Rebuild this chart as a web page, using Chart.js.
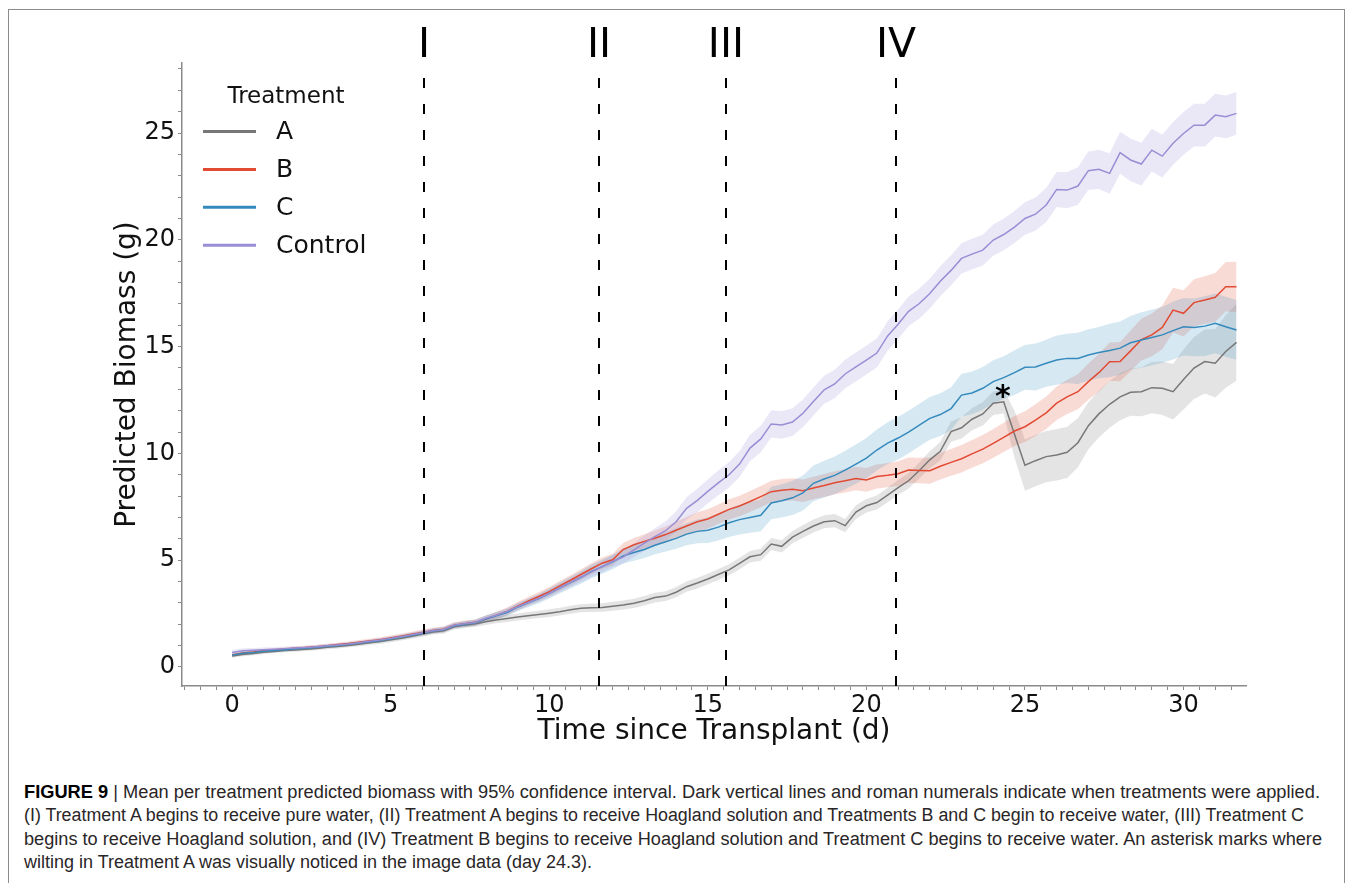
<!DOCTYPE html>
<html>
<head>
<meta charset="utf-8">
<title>Predicted biomass per treatment</title>
<script src="https://cdn.jsdelivr.net/npm/chart.js@4.4.0/dist/chart.umd.min.js"></script>
<style>
  html, body { margin: 0; padding: 0; background: #fff; }
  body { width: 1355px; height: 883px; position: relative; overflow: hidden; }
  #frame { position: absolute; left: 8px; top: 9px; width: 1337px; height: 900px; border: 1px solid #8c8c8c; box-sizing: border-box; }
  #chart-wrap { position: absolute; left: 0; top: 0; width: 1355px; height: 760px; }
  #caption { position: absolute; left: 24px; top: 781px; font-family: "Liberation Sans Narrow", "Liberation Sans", Arial, sans-serif; font-size: 18px; line-height: 23.3px; color: #2a2627; }
  .cap-line { white-space: nowrap; width: max-content; transform-origin: 0 50%; }
  .cap-line b { color: #000; }
</style>
</head>
<body>
<div id="frame"></div>
<div id="chart-wrap"><canvas id="biomass-chart" width="1355" height="760"></canvas></div>
<div id="caption">
  <div class="cap-line"><b>FIGURE 9</b> | Mean per treatment predicted biomass with 95% confidence interval. Dark vertical lines and roman numerals indicate when treatments were applied.</div>
  <div class="cap-line">(I) Treatment A begins to receive pure water, (II) Treatment A begins to receive Hoagland solution and Treatments B and C begin to receive water, (III) Treatment C</div>
  <div class="cap-line">begins to receive Hoagland solution, and (IV) Treatment B begins to receive Hoagland solution and Treatment C begins to receive water. An asterisk marks where</div>
  <div class="cap-line">wilting in Treatment A was visually noticed in the image data (day 24.3).</div>
</div>
<script>
// ===================================================================
// DATA (one sample every 1/3 day)
// ===================================================================
const days = [
    0, 0.33, 0.67, 1, 1.33, 1.67, 2, 2.33, 2.67, 3, 3.33, 3.67,
    4, 4.33, 4.67, 5, 5.33, 5.67, 6, 6.33, 6.67, 7, 7.33, 7.67,
    8, 8.33, 8.67, 9, 9.33, 9.67, 10, 10.33, 10.67, 11, 11.33, 11.67,
    12, 12.33, 12.67, 13, 13.33, 13.67, 14, 14.33, 14.67, 15, 15.33, 15.67,
    16, 16.33, 16.67, 17, 17.33, 17.67, 18, 18.33, 18.67, 19, 19.33, 19.67,
    20, 20.33, 20.67, 21, 21.33, 21.67, 22, 22.33, 22.67, 23, 23.33, 23.67,
    24, 24.33, 24.67, 25, 25.33, 25.67, 26, 26.33, 26.67, 27, 27.33, 27.67,
    28, 28.33, 28.67, 29, 29.33, 29.67, 30, 30.33, 30.67, 31, 31.33, 31.67
];

const meanA = [
    0.51, 0.58, 0.63, 0.69, 0.73, 0.77, 0.80, 0.83, 0.87, 0.92, 0.96, 1.01,
    1.07, 1.13, 1.19, 1.27, 1.35, 1.44, 1.54, 1.64, 1.70, 1.88, 1.96, 2.02,
    2.12, 2.20, 2.27, 2.34, 2.40, 2.46, 2.52, 2.59, 2.68, 2.75, 2.77, 2.79,
    2.84, 2.90, 2.98, 3.10, 3.25, 3.32, 3.50, 3.76, 3.93, 4.12, 4.33, 4.55,
    4.85, 5.16, 5.26, 5.76, 5.65, 6.08, 6.35, 6.60, 6.80, 6.85, 6.62, 7.25,
    7.55, 7.70, 8.05, 8.40, 8.72, 9.20, 9.70, 10.10, 11.02, 11.20, 11.60, 11.85,
    12.35, 12.42, 10.90, 9.45, 9.66, 9.85, 9.93, 10.05, 10.50, 11.30, 11.85, 12.30,
    12.65, 12.86, 12.89, 13.08, 13.05, 12.89, 13.46, 14.00, 14.30, 14.22, 14.77, 15.20
];
const meanB = [
    0.56, 0.65, 0.70, 0.77, 0.80, 0.84, 0.88, 0.91, 0.95, 1.00, 1.05, 1.10,
    1.16, 1.22, 1.28, 1.36, 1.44, 1.53, 1.62, 1.71, 1.77, 1.96, 2.03, 2.09,
    2.25, 2.42, 2.60, 2.85, 3.08, 3.30, 3.53, 3.80, 4.06, 4.33, 4.60, 4.86,
    5.02, 5.50, 5.72, 5.88, 6.03, 6.20, 6.40, 6.60, 6.80, 6.93, 7.15, 7.38,
    7.54, 7.75, 7.98, 8.21, 8.28, 8.32, 8.25, 8.38, 8.50, 8.63, 8.72, 8.83,
    8.76, 8.92, 8.98, 9.05, 9.22, 9.20, 9.19, 9.40, 9.58, 9.75, 9.98, 10.20,
    10.47, 10.75, 11.05, 11.25, 11.56, 11.90, 12.35, 12.65, 12.89, 13.36, 13.78, 14.29,
    14.30, 14.80, 15.33, 15.55, 15.90, 16.71, 16.56, 17.06, 17.18, 17.31, 17.80, 17.80
];
const meanC = [
    0.55, 0.64, 0.68, 0.74, 0.77, 0.81, 0.85, 0.88, 0.92, 0.97, 1.01, 1.06,
    1.12, 1.18, 1.24, 1.32, 1.40, 1.49, 1.58, 1.68, 1.74, 1.93, 2.00, 2.07,
    2.25, 2.40, 2.55, 2.80, 3.00, 3.20, 3.45, 3.70, 3.95, 4.20, 4.48, 4.70,
    4.92, 5.20, 5.36, 5.50, 5.70, 5.86, 6.02, 6.22, 6.35, 6.40, 6.55, 6.75,
    6.90, 7.00, 7.10, 7.68, 7.78, 7.92, 8.15, 8.60, 8.80, 8.97, 9.22, 9.50,
    9.78, 10.16, 10.48, 10.72, 11.00, 11.33, 11.64, 11.82, 12.10, 12.73, 12.83, 13.05,
    13.36, 13.55, 13.78, 14.03, 14.05, 14.22, 14.37, 14.45, 14.45, 14.61, 14.72, 14.82,
    14.93, 15.18, 15.31, 15.43, 15.55, 15.75, 15.93, 15.90, 15.96, 16.09, 15.93, 15.78
];
const meanControl = [
    0.68, 0.76, 0.78, 0.81, 0.83, 0.86, 0.89, 0.91, 0.95, 0.99, 1.03, 1.08,
    1.14, 1.20, 1.26, 1.34, 1.42, 1.51, 1.60, 1.70, 1.76, 1.95, 2.02, 2.08,
    2.28, 2.42, 2.60, 2.82, 3.02, 3.22, 3.45, 3.70, 3.96, 4.20, 4.45, 4.70,
    4.95, 5.15, 5.48, 5.80, 6.10, 6.38, 6.80, 7.43, 7.80, 8.22, 8.62, 9.00,
    9.50, 10.25, 10.68, 11.38, 11.33, 11.47, 11.88, 12.43, 12.98, 13.25, 13.72, 14.05,
    14.37, 14.70, 15.50, 16.05, 16.65, 17.02, 17.49, 18.06, 18.57, 19.13, 19.33, 19.52,
    19.99, 20.25, 20.60, 21.00, 21.20, 21.63, 22.36, 22.33, 22.52, 23.24, 23.30, 23.11,
    24.08, 23.74, 23.55, 24.20, 23.92, 24.52, 24.98, 25.37, 25.37, 25.84, 25.76, 25.92
];

// half width of the 95% confidence band
const ciA = [
    0.08, 0.08, 0.08, 0.08, 0.08, 0.08, 0.08, 0.08, 0.09, 0.09, 0.09, 0.09,
    0.10, 0.10, 0.10, 0.11, 0.11, 0.12, 0.12, 0.12, 0.13, 0.13, 0.14, 0.14,
    0.15, 0.15, 0.16, 0.16, 0.17, 0.17, 0.18, 0.18, 0.19, 0.19, 0.20, 0.20,
    0.21, 0.21, 0.22, 0.22, 0.23, 0.23, 0.24, 0.24, 0.25, 0.25, 0.26, 0.26,
    0.27, 0.27, 0.28, 0.28, 0.29, 0.29, 0.30, 0.30, 0.30, 0.31, 0.31, 0.32,
    0.32, 0.33, 0.34, 0.35, 0.36, 0.38, 0.40, 0.43, 0.47, 0.50, 0.52, 0.54,
    0.55, 0.55, 1.10, 1.20, 1.20, 1.20, 1.20, 1.20, 1.15, 1.10, 1.10, 1.10,
    1.10, 1.10, 1.15, 1.20, 1.25, 1.30, 1.40, 1.45, 1.50, 1.60, 1.70, 1.80
];
const ciB = [
    0.08, 0.08, 0.08, 0.08, 0.08, 0.08, 0.08, 0.09, 0.09, 0.09, 0.09, 0.09,
    0.10, 0.10, 0.11, 0.11, 0.12, 0.12, 0.13, 0.13, 0.14, 0.14, 0.15, 0.15,
    0.16, 0.17, 0.18, 0.19, 0.20, 0.21, 0.22, 0.23, 0.24, 0.25, 0.26, 0.27,
    0.28, 0.30, 0.32, 0.34, 0.36, 0.38, 0.40, 0.42, 0.44, 0.45, 0.46, 0.47,
    0.48, 0.49, 0.50, 0.51, 0.52, 0.52, 0.53, 0.53, 0.54, 0.54, 0.55, 0.55,
    0.56, 0.56, 0.57, 0.58, 0.59, 0.60, 0.61, 0.62, 0.63, 0.64, 0.65, 0.66,
    0.67, 0.68, 0.70, 0.72, 0.74, 0.76, 0.78, 0.80, 0.82, 0.85, 0.88, 0.90,
    0.92, 0.95, 0.98, 1.00, 1.02, 1.05, 1.08, 1.10, 1.12, 1.14, 1.16, 1.18
];
const ciC = [
    0.08, 0.08, 0.08, 0.08, 0.08, 0.08, 0.08, 0.08, 0.08, 0.08, 0.08, 0.08,
    0.09, 0.09, 0.10, 0.10, 0.11, 0.11, 0.12, 0.12, 0.13, 0.13, 0.14, 0.15,
    0.16, 0.17, 0.18, 0.19, 0.20, 0.22, 0.24, 0.26, 0.28, 0.30, 0.32, 0.33,
    0.34, 0.36, 0.38, 0.40, 0.42, 0.45, 0.48, 0.52, 0.56, 0.60, 0.63, 0.66,
    0.70, 0.72, 0.74, 0.76, 0.78, 0.80, 0.82, 0.84, 0.86, 0.88, 0.90, 0.92,
    0.94, 0.96, 0.98, 1.00, 1.00, 1.00, 1.00, 1.00, 1.00, 1.00, 1.00, 1.00,
    1.00, 1.00, 1.05, 1.05, 1.10, 1.10, 1.15, 1.15, 1.20, 1.20, 1.20, 1.25,
    1.25, 1.25, 1.30, 1.30, 1.30, 1.35, 1.35, 1.35, 1.40, 1.40, 1.40, 1.40
];
const ciControl = [
    0.12, 0.12, 0.11, 0.10, 0.10, 0.10, 0.09, 0.09, 0.09, 0.09, 0.09, 0.09,
    0.09, 0.09, 0.10, 0.10, 0.10, 0.10, 0.11, 0.11, 0.11, 0.12, 0.12, 0.12,
    0.13, 0.14, 0.15, 0.16, 0.17, 0.18, 0.19, 0.20, 0.21, 0.22, 0.24, 0.26,
    0.28, 0.30, 0.33, 0.36, 0.40, 0.44, 0.48, 0.52, 0.55, 0.57, 0.58, 0.60,
    0.60, 0.62, 0.62, 0.64, 0.64, 0.65, 0.65, 0.66, 0.66, 0.67, 0.67, 0.68,
    0.68, 0.68, 0.69, 0.69, 0.70, 0.70, 0.70, 0.70, 0.71, 0.71, 0.72, 0.72,
    0.73, 0.74, 0.75, 0.76, 0.78, 0.80, 0.82, 0.85, 0.88, 0.90, 0.92, 0.95,
    0.98, 1.00, 1.00, 1.00, 1.00, 1.00, 1.00, 1.00, 1.00, 1.00, 1.00, 1.00
];

const treatmentLabels = ['A', 'B', 'C', 'Control'];
const treatmentColors = ['#777777', '#E24A33', '#348ABD', '#988ED5'];
const treatmentMeans = [meanA, meanB, meanC, meanControl];
const treatmentCIs = [ciA, ciB, ciC, ciControl];

// when the watering regime changed (dashed lines)
const changeDays = [6.05, 11.57, 15.57, 20.93];
const changeNumerals = ['I', 'II', 'III', 'IV'];

// wilting noticed in treatment A
const wiltDay = 24.3;
const wiltValue = 12.42;

const xMajorTicks = [0, 5, 10, 15, 20, 25, 30];
const yMajorTicks = [0, 5, 10, 15, 20, 25];

// ===================================================================
// STYLE
// ===================================================================
const FONT = '"DejaVu Sans", Verdana, sans-serif';
const AXIS_GRAY = '#8a8a8a';
const TEXT = '#111111';

function withAlpha(hex, a) {
    const n = parseInt(hex.slice(1), 16);
    return `rgba(${(n >> 16) & 255}, ${(n >> 8) & 255}, ${n & 255}, ${a})`;
}

function minorTicks(from, to, step) {
    const out = [];
    for (let v = from; v <= to + 1e-9; v += step) out.push(Math.round(v * 100) / 100);
    return out;
}

// ===================================================================
// DATASETS
// ===================================================================
const datasets = [];
treatmentLabels.forEach((label, i) => {
    const mean = treatmentMeans[i];
    const ci = treatmentCIs[i];
    datasets.push({
        label: label + ' upper',
        data: days.map((d, k) => ({ x: d, y: mean[k] + ci[k] })),
        borderColor: 'rgba(0,0,0,0)', borderWidth: 0, pointRadius: 0, fill: false,
        order: 20 - i
    });
    datasets.push({
        label: label + ' lower',
        data: days.map((d, k) => ({ x: d, y: mean[k] - ci[k] })),
        borderColor: 'rgba(0,0,0,0)', borderWidth: 0, pointRadius: 0,
        fill: '-1', backgroundColor: withAlpha(treatmentColors[i], 0.2),
        order: 20 - i
    });
});
treatmentLabels.forEach((label, i) => {
    datasets.push({
        label: label,
        data: days.map((d, k) => ({ x: d, y: treatmentMeans[i][k] })),
        borderColor: treatmentColors[i], borderWidth: 1.5, pointRadius: 0, fill: false,
        order: 10 - i
    });
});

// ===================================================================
// PLUGINS
// ===================================================================
const treatmentMarks = {
    id: 'treatmentMarks',
    afterDatasetsDraw(chart) {
        const { ctx, chartArea } = chart;
        const xs = chart.scales.x;
        const ys = chart.scales.y;
        ctx.save();
        ctx.strokeStyle = '#000';
        ctx.lineWidth = 2;
        ctx.setLineDash([10, 16]);
        ctx.fillStyle = '#000';
        ctx.font = `41px ${FONT}`;
        ctx.textAlign = 'center';
        ctx.textBaseline = 'alphabetic';
        changeDays.forEach((d, i) => {
            const x = Math.round(xs.getPixelForValue(d));
            ctx.beginPath();
            ctx.moveTo(x, chartArea.top + 15);
            ctx.lineTo(x, chartArea.bottom);
            ctx.stroke();
            ctx.fillText(changeNumerals[i], x, 57);
        });
        ctx.setLineDash([]);
        ctx.font = `bold 30px ${FONT}`;
        ctx.fillText('*', xs.getPixelForValue(wiltDay), ys.getPixelForValue(wiltValue) + 4);
        ctx.restore();
    }
};

const treatmentLegend = {
    id: 'treatmentLegend',
    afterDraw(chart) {
        const ctx = chart.ctx;
        ctx.save();
        ctx.fillStyle = TEXT;
        ctx.textBaseline = 'middle';
        ctx.textAlign = 'center';
        ctx.font = `23px ${FONT}`;
        ctx.fillText('Treatment', 286, 97);
        ctx.textAlign = 'left';
        ctx.font = `25px ${FONT}`;
        treatmentLabels.forEach((label, i) => {
            const y = 131.5 + i * 37.9;
            ctx.strokeStyle = treatmentColors[i];
            ctx.lineWidth = 3;
            ctx.beginPath();
            ctx.moveTo(203, y);
            ctx.lineTo(256, y);
            ctx.stroke();
            ctx.fillText(label, 276, y + 1);
        });
        ctx.restore();
    }
};

// ===================================================================
// CHART
// ===================================================================
const isMajor = (v, list) => list.some(m => Math.abs(m - v) < 1e-6);

new Chart(document.getElementById('biomass-chart'), {
    type: 'line',
    data: { datasets },
    options: {
        responsive: false,
        animation: false,
        devicePixelRatio: 1,
        events: [],
        layout: { padding: { left: 111, top: 63, right: 109, bottom: 11 } },
        plugins: { legend: { display: false }, tooltip: { enabled: false } },
        scales: {
            x: {
                type: 'linear', bounds: 'data', min: -1.58, max: 31.97,
                afterBuildTicks: scale => { scale.ticks = minorTicks(-1.5, 31.5, 0.5).map(v => ({ value: v })); },
                afterFit: scale => { scale.height = 63; },
                border: { display: true, color: AXIS_GRAY, width: 1.5 },
                grid: { display: true, drawOnChartArea: false, drawTicks: true, tickLength: 4, tickColor: AXIS_GRAY, tickWidth: 1 },
                ticks: {
                    autoSkip: false, maxRotation: 0, padding: 1, color: TEXT,
                    font: { family: FONT, size: 24 },
                    callback: v => isMajor(v, xMajorTicks) ? String(v) : ''
                },
                title: { display: true, text: 'Time since Transplant (d)', color: TEXT, padding: 0, font: { family: FONT, size: 28 } }
            },
            y: {
                type: 'linear', bounds: 'data', min: -0.89, max: 28.28,
                afterBuildTicks: scale => { scale.ticks = minorTicks(0, 28, 1).map(v => ({ value: v })); },
                afterFit: scale => { scale.width = 71; },
                border: { display: true, color: AXIS_GRAY, width: 1.5 },
                grid: { display: true, drawOnChartArea: false, drawTicks: true, tickLength: 4, tickColor: AXIS_GRAY, tickWidth: 1 },
                ticks: {
                    autoSkip: false, padding: 3, color: TEXT,
                    font: { family: FONT, size: 24 },
                    callback: v => isMajor(v, yMajorTicks) ? String(v) : ''
                },
                title: { display: true, text: 'Predicted Biomass (g)', color: TEXT, padding: 0, font: { family: FONT, size: 28 } }
            }
        }
    },
    plugins: [treatmentMarks, treatmentLegend]
});

// caption lines are set to the widths they have in the printed figure
const captionWidths = [1296, 1280, 1298, 568];
document.querySelectorAll('.cap-line').forEach((el, i) => {
    const w = el.getBoundingClientRect().width;
    if (w > 0) el.style.transform = `scaleX(${captionWidths[i] / w})`;
});
</script>
</body>
</html>
